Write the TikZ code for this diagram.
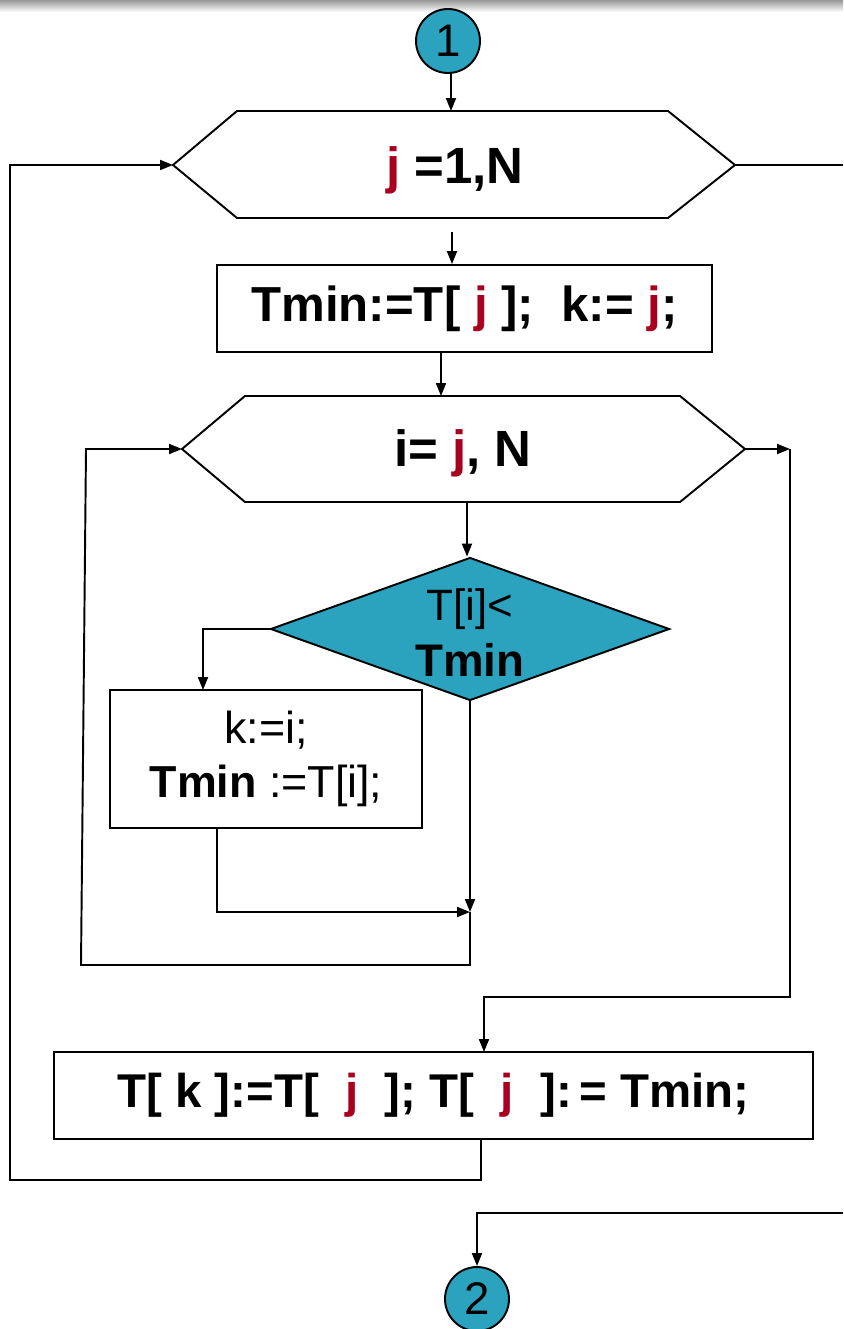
\documentclass[tikz,border=0pt]{standalone}
\usepackage{fontspec}
\setmainfont{Liberation Sans}
\usetikzlibrary{arrows.meta,shapes.geometric}

\definecolor{flowteal}{HTML}{2BA3BF}
\definecolor{jred}{HTML}{A8001E}
\newcommand{\jj}{\textcolor{jred}{j}}
\newcommand{\bigbold}{\fontsize{29}{34}\selectfont\bfseries}

\tikzset{
  blk/.style={line width=1.1pt},
  arr/.style={blk,-{Triangle[length=0.26cm,width=0.2cm]}},
  conn/.style={draw,circle,fill=flowteal,line width=1.1pt,minimum size=1.28cm,
    inner sep=0pt,font=\fontsize{26}{26}\selectfont},
  opbox/.style={draw,line width=1.1pt,inner sep=0pt,align=center},
}

\begin{document}
\begin{tikzpicture}[x=0.02cm,y=-0.02cm]
  \useasboundingbox (0,0) rectangle (843,1329);
  \shade[top color=black!40,bottom color=white] (0,0) rectangle (843,12);

  % start connector
  \node[conn] (c1) at (448,41) {1};

  % outer loop  j = 1,N
  \draw[blk] (173,165) coordinate (h1w) -- (237,111) -- (668,111)
    -- (735,165) coordinate (h1e) -- (668,218) -- (237,218) -- cycle;
  \coordinate (h1n) at (451,111);
  \node[font=\bigbold] (h1) at (455,170) {\jj\ =1,N};
  \draw[arr] (c1.south -| h1n) -- (h1n);

  % Tmin:=T[j]; k:=j;
  \node[opbox,minimum width=9.9cm,minimum height=1.74cm,
    font=\fontsize{28}{32}\selectfont\bfseries] (b2) at (464.5,308.5)
    {Tmin:=T[ \jj\ ];\ \ k:= \jj;};
  \coordinate (g1) at (452,232);
  \draw[arr] (g1) -- (g1 |- b2.north);

  % inner loop  i = j,N
  \draw[blk] (182,449) coordinate (h2w) -- (245,396) -- (680,396)
    -- (745,449) coordinate (h2e) -- (680,502) -- (245,502) -- cycle;
  \coordinate (h2n) at (441,396);
  \node[font=\bigbold] (h2) at (463,453) {i= \jj, N};
  \draw[arr] (b2.south -| h2n) -- (h2n);

  % T[i] < Tmin ?
  \node[diamond,draw,fill=flowteal,line width=1.1pt,minimum width=7.98cm,
    minimum height=2.86cm,inner sep=0pt] (d) at (470,629) {};
  \node[align=center,inner sep=0pt] (dt) at ([yshift=-2pt]d.center)
    {{\fontsize{25}{30}\selectfont T[i]<}\\[7pt]
     {\fontsize{26}{30}\selectfont\bfseries Tmin}};
  \coordinate (h2s) at (467,502);
  \draw[arr] (h2s) -- (h2s |- d.north);

  % k:=i; Tmin:=T[i];
  \node[opbox,minimum width=6.24cm,minimum height=2.76cm,
    font=\fontsize{25.5}{31}\selectfont] (b4) at (266,759)
    {k:=i;\\{\bfseries Tmin} :=T[i];};
  \coordinate (b4in) at (203,690);
  \draw[arr] (d.west) -| (b4in);

  % join and back to inner header
  \coordinate (m1) at (470,912);
  \coordinate (b4out) at (217,828);
  \coordinate (l2b) at (81,965);
  \coordinate (l2t) at (86,449);
  \draw[arr] (d.south) -- (m1);
  \draw[arr] (b4out) |- (m1);
  \draw[arr] (m1) |- (l2b) -- (l2t) -- (h2w);

  % inner loop done
  \node[opbox,minimum width=15.18cm,minimum height=1.74cm,
    font=\fontsize{27}{32}\selectfont\bfseries] (b3) at (433.5,1095.5)
    {T[ k ]:=T[ \ \jj\ \ ]; T[ \ \jj\ \ ]:\,= Tmin;};
  \coordinate (r2t) at (790,449);
  \coordinate (r2b) at (790,997);
  \coordinate (b3in) at (484,1052);
  \draw[arr] (h2e) -- (r2t);
  \draw[arr] (r2t) -- (r2b) -| (b3in);

  % back to outer header
  \coordinate (b3out) at (481,1139);
  \coordinate (l1b) at (10,1180);
  \draw[arr] (b3out) |- (l1b) -- (l1b |- h1w) -- (h1w);

  % outer loop done
  \coordinate (e1) at (843,165);
  \coordinate (e2) at (843,1213);
  \draw[blk] (h1e) -- (e1);
  \node[conn] (c2) at (477,1299) {2};
  \draw[arr] (e2) -| (c2.north);
\end{tikzpicture}
\end{document}
